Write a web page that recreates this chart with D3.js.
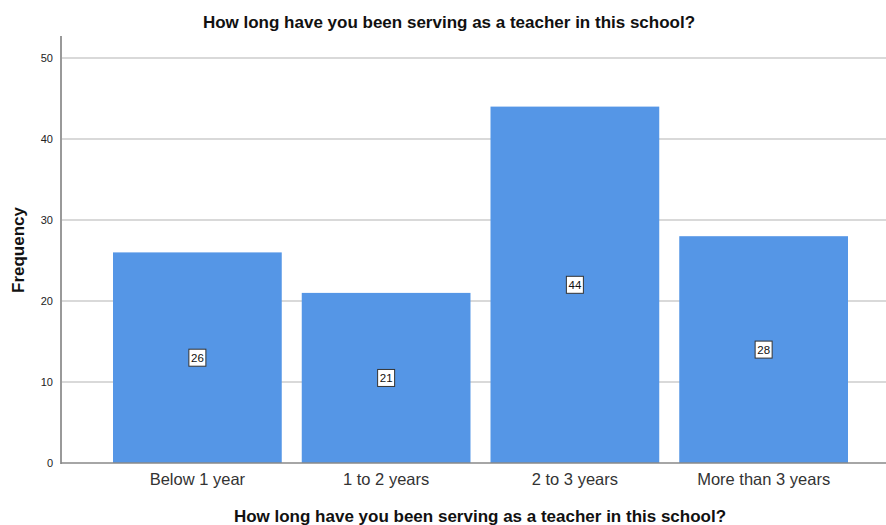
<!DOCTYPE html>
<html><head><meta charset="utf-8">
<script src="https://cdn.jsdelivr.net/npm/d3@7/dist/d3.min.js"></script>
<style>body{margin:0;background:#fff;}svg{display:block;font-family:"Liberation Sans",Arial,sans-serif;}</style>
</head><body>
<svg id="c" width="886" height="525"></svg>
<script>
const categories = ["Below 1 year", "1 to 2 years", "2 to 3 years", "More than 3 years"];
const frequencies = [26, 21, 44, 28];
const yTicks = [0, 10, 20, 30, 40, 50];
const chartTitle = "How long have you been serving as a teacher in this school?";
const xTitle = "How long have you been serving as a teacher in this school?";
const yTitle = "Frequency";

const svg = d3.select("#c");
const y = d3.scaleLinear().domain([0, 50]).range([463, 58]);
const x = d3.scaleBand().domain(categories).range([113, 848]).paddingInner(0.106).paddingOuter(0);
const plotLeft = 61, plotRight = 886, plotTop = 36;

// gridlines
svg.append("g").selectAll("line").data(yTicks.filter(d => d > 0)).join("line")
  .attr("x1", plotLeft + 1).attr("x2", plotRight).attr("y1", d => y(d)).attr("y2", d => y(d))
  .attr("stroke", "#d9d9d9").attr("stroke-width", 2);

// bars
svg.append("g").selectAll("rect").data(frequencies).join("rect")
  .attr("x", (d, i) => x(categories[i])).attr("width", x.bandwidth())
  .attr("y", d => y(d)).attr("height", d => y(0) - y(d))
  .attr("fill", "#5596e6");

// y axis
const yAxis = svg.append("g").attr("transform", `translate(${plotLeft},0)`)
  .call(d3.axisLeft(y).tickValues(yTicks).tickSize(0).tickPadding(8));
yAxis.select(".domain").remove();
yAxis.selectAll("text").attr("font-size", 11).attr("fill", "#222").attr("font-family", "Liberation Sans, Arial, sans-serif");
svg.append("line").attr("x1", plotLeft).attr("x2", plotLeft).attr("y1", plotTop).attr("y2", y(0) + 1)
  .attr("stroke", "#999").attr("stroke-width", 2);

// x axis
const xAxis = svg.append("g").attr("transform", `translate(0,${y(0)})`)
  .call(d3.axisBottom(x).tickSize(0).tickPadding(10));
xAxis.select(".domain").remove();
xAxis.selectAll("text").attr("font-size", 16.5).attr("fill", "#333").attr("font-family", "Liberation Sans, Arial, sans-serif");
svg.append("line").attr("x1", plotLeft).attr("x2", plotRight).attr("y1", y(0)).attr("y2", y(0))
  .attr("stroke", "#888").attr("stroke-width", 1.5);

// value labels
const lbl = svg.append("g").selectAll("g").data(frequencies).join("g")
  .attr("transform", (d, i) => `translate(${x(categories[i]) + x.bandwidth() / 2},${y(d / 2)})`);
lbl.append("rect").attr("x", -8.5).attr("y", -8.5).attr("width", 17).attr("height", 17)
  .attr("fill", "#fff").attr("stroke", "#333").attr("stroke-width", 1);
lbl.append("text").attr("text-anchor", "middle").attr("dy", "0.35em")
  .attr("font-size", 11.5).attr("fill", "#111").text(d => d);

// titles
svg.append("text").attr("x", 449).attr("y", 28).attr("text-anchor", "middle")
  .attr("font-size", 17).attr("font-weight", "bold").attr("fill", "#111").text(chartTitle);
svg.append("text").attr("x", 480).attr("y", 522).attr("text-anchor", "middle")
  .attr("font-size", 17).attr("font-weight", "bold").attr("fill", "#111").text(xTitle);
svg.append("text").attr("transform", "translate(24,250) rotate(-90)").attr("text-anchor", "middle")
  .attr("font-size", 17).attr("font-weight", "bold").attr("fill", "#111").text(yTitle);
</script>
</body></html>
